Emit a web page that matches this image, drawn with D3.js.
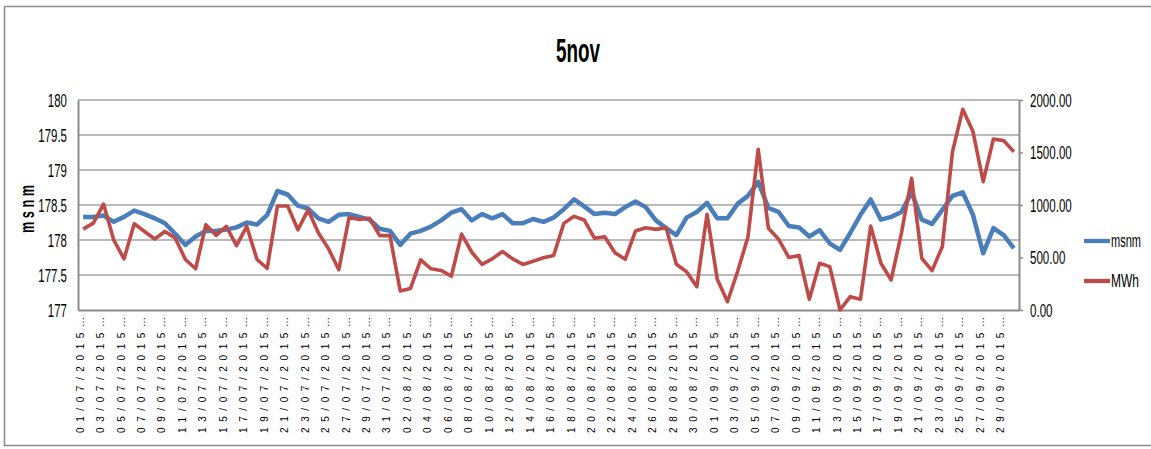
<!DOCTYPE html>
<html>
<head>
<meta charset="utf-8">
<script src="https://cdn.jsdelivr.net/npm/d3@7"></script>
<style>
  html, body { margin: 0; padding: 0; background: #fff; }
  svg { display: block; }
  text { font-family: "Liberation Sans", Arial, sans-serif; fill: #000; }
</style>
</head>
<body>
<svg id="chart" width="1151" height="449"></svg>
<script>
const categories = [
  "01/07/2015","02/07/2015","03/07/2015","04/07/2015","05/07/2015","06/07/2015","07/07/2015","08/07/2015",
  "09/07/2015","10/07/2015","11/07/2015","12/07/2015","13/07/2015","14/07/2015","15/07/2015","16/07/2015",
  "17/07/2015","18/07/2015","19/07/2015","20/07/2015","21/07/2015","22/07/2015","23/07/2015","24/07/2015",
  "25/07/2015","26/07/2015","27/07/2015","28/07/2015","29/07/2015","30/07/2015","31/07/2015",
  "01/08/2015","02/08/2015","03/08/2015","04/08/2015","05/08/2015","06/08/2015","07/08/2015","08/08/2015",
  "09/08/2015","10/08/2015","11/08/2015","12/08/2015","13/08/2015","14/08/2015","15/08/2015","16/08/2015",
  "17/08/2015","18/08/2015","19/08/2015","20/08/2015","21/08/2015","22/08/2015","23/08/2015","24/08/2015",
  "25/08/2015","26/08/2015","27/08/2015","28/08/2015","29/08/2015","30/08/2015","31/08/2015",
  "01/09/2015","02/09/2015","03/09/2015","04/09/2015","05/09/2015","06/09/2015","07/09/2015","08/09/2015",
  "09/09/2015","10/09/2015","11/09/2015","12/09/2015","13/09/2015","14/09/2015","15/09/2015","16/09/2015",
  "17/09/2015","18/09/2015","19/09/2015","20/09/2015","21/09/2015","22/09/2015","23/09/2015","24/09/2015",
  "25/09/2015","26/09/2015","27/09/2015","28/09/2015","29/09/2015","30/09/2015"
];

const msnm = [
  178.33,178.33,178.35,178.26,178.33,178.42,178.37,178.31,178.24,178.09,
  177.93,178.05,178.13,178.13,178.15,178.18,178.25,178.22,178.36,178.70,
  178.65,178.49,178.45,178.31,178.26,178.36,178.37,178.33,178.29,178.16,
  178.13,177.93,178.09,178.13,178.19,178.28,178.39,178.44,178.28,178.37,
  178.31,178.37,178.24,178.24,178.30,178.26,178.32,178.44,178.58,178.48,
  178.37,178.39,178.37,178.47,178.55,178.47,178.28,178.17,178.07,178.32,
  178.40,178.53,178.31,178.31,178.52,178.63,178.83,178.46,178.40,178.20,
  178.18,178.05,178.14,177.95,177.86,178.10,178.36,178.58,178.29,178.33,
  178.40,178.68,178.29,178.23,178.43,178.63,178.68,178.36,177.81,178.17,
  178.07,177.88
];

const mwh = [
  770,827,1009,665,487,821,748,676,748,686,
  481,393,811,711,796,613,796,481,396,991,
  991,764,953,736,582,384,880,862,874,708,
  708,182,204,478,393,377,321,723,550,434,
  487,557,487,434,465,497,519,825,892,857,
  683,698,546,483,752,784,768,784,435,365,
  222,911,292,79,371,695,1530,778,673,500,
  520,102,445,413,0,127,102,800,445,286,
  730,1254,492,375,603,1508,1911,1699,1222,1629,
  1613,1508
];

const leftTicks = [177, 177.5, 178, 178.5, 179, 179.5, 180];
const rightTicks = [0, 500, 1000, 1500, 2000];
const seriesNames = ["msnm", "MWh"];
const titleText = "5nov";
const yTitleText = "m s n m";

const svg = d3.select("#chart");
const plot = { left: 78, right: 1019, top: 100, bottom: 310 };
const colors = { msnm: "#4A7EBB", MWh: "#BE4B48" };
const gridColor = "#a3a3a3";
const axisColor = "#8a8a8a";

// outer chart border (right side runs off the picture in the reference)
svg.append("path")
  .attr("d", "M1151,6.5H4.5V445.5H1151")
  .attr("fill", "none").attr("stroke", "#8c8c8c").attr("stroke-width", 1.5);

const x = d3.scaleBand().domain(categories).range([plot.left, plot.right]).paddingInner(0).paddingOuter(0);
const cx = d => x(d) + x.bandwidth() / 2;
const yL = d3.scaleLinear().domain([177, 180]).range([plot.bottom, plot.top]);
const yR = d3.scaleLinear().domain([0, 2000]).range([plot.bottom, plot.top]);

function squeeze(sel, k) {
  sel.each(function () {
    const w = this.getComputedTextLength();
    d3.select(this).attr("textLength", (w * k).toFixed(2)).attr("lengthAdjust", "spacingAndGlyphs");
  });
}

// gridlines
svg.append("g").selectAll("line").data(leftTicks.slice(1)).join("line")
  .attr("x1", plot.left).attr("x2", plot.right)
  .attr("y1", d => yL(d)).attr("y2", d => yL(d))
  .attr("stroke", gridColor).attr("stroke-width", 1.6);

// left axis
const gL = svg.append("g").attr("transform", `translate(${plot.left},0)`)
  .call(d3.axisLeft(yL).tickValues(leftTicks).tickSize(0).tickSizeOuter(0).tickPadding(11).tickFormat(d => String(d)));
gL.select(".domain").attr("stroke", axisColor).attr("stroke-width", 2);
gL.selectAll("text").attr("font-size", 17.5).attr("dy", "0.36em").attr("font-family", null).call(squeeze, 0.655);

// right axis
const gR = svg.append("g").attr("transform", `translate(${plot.right},0)`)
  .call(d3.axisRight(yR).tickValues(rightTicks).tickSize(4).tickSizeOuter(0).tickPadding(7).tickFormat(d3.format(".2f")));
gR.select(".domain").attr("stroke", axisColor).attr("stroke-width", 2);
gR.selectAll(".tick line").attr("stroke", axisColor).attr("stroke-width", 1.5);
gR.selectAll("text").attr("font-size", 17.5).attr("dy", "0.36em").attr("font-family", null).call(squeeze, 0.66);

// bottom axis
const labelCats = categories.filter((d, i) => i % 2 === 0);
const gB = svg.append("g").attr("transform", `translate(0,${plot.bottom})`)
  .call(d3.axisBottom(x).tickValues(labelCats).tickSize(0).tickSizeOuter(0).tickFormat(d => d + "\u2026"));
gB.select(".domain").attr("stroke", axisColor).attr("stroke-width", 2.2);
gB.selectAll("text")
  .attr("font-family", null)
  .attr("font-size", 10)
  .attr("transform", "rotate(-90)")
  .attr("text-anchor", "start")
  .attr("x", -123).attr("y", 0.5).attr("dy", 0)
  .attr("fill", "#222")
  .attr("textLength", 116).attr("lengthAdjust", "spacing");

// series lines
const series = [
  { name: "msnm", values: msnm, scale: yL, width: 4.5 },
  { name: "MWh", values: mwh, scale: yR, width: 3.6 }
];
series.forEach(s => {
  const line = d3.line().x((v, i) => cx(categories[i])).y(v => s.scale(v));
  svg.append("path").datum(s.values)
    .attr("d", line)
    .attr("fill", "none")
    .attr("stroke", colors[s.name])
    .attr("stroke-width", s.width)
    .attr("stroke-linejoin", "round")
    .attr("stroke-linecap", "butt");
});

// title
svg.append("text").attr("x", 578).attr("y", 62).attr("text-anchor", "middle")
  .attr("font-size", 34).attr("font-weight", "bold")
  .attr("textLength", 44).attr("lengthAdjust", "spacingAndGlyphs")
  .text(titleText);

// y axis title
svg.append("text").attr("transform", "translate(33.5,209) rotate(-90)")
  .attr("text-anchor", "middle").attr("font-size", 20).attr("font-weight", "bold")
  .attr("textLength", 48).attr("lengthAdjust", "spacingAndGlyphs")
  .text(yTitleText);

// legend (horizontal squeeze by transform so its box stays inside the picture)
const legendY = [241, 281];
const legendW = { msnm: 30, MWh: 28 };
const lg = svg.append("g");
seriesNames.forEach((n, i) => {
  lg.append("line").attr("x1", 1084).attr("x2", 1110)
    .attr("y1", legendY[i]).attr("y2", legendY[i])
    .attr("stroke", colors[n]).attr("stroke-width", 4.3);
  const t = lg.append("text")
    .attr("font-size", 18)
    .text(n);
  const w = t.node().getComputedTextLength();
  t.attr("transform", `translate(1111,${legendY[i] + 6.3}) scale(${(legendW[n] / w).toFixed(4)},1)`);
});
</script>
</body>
</html>
